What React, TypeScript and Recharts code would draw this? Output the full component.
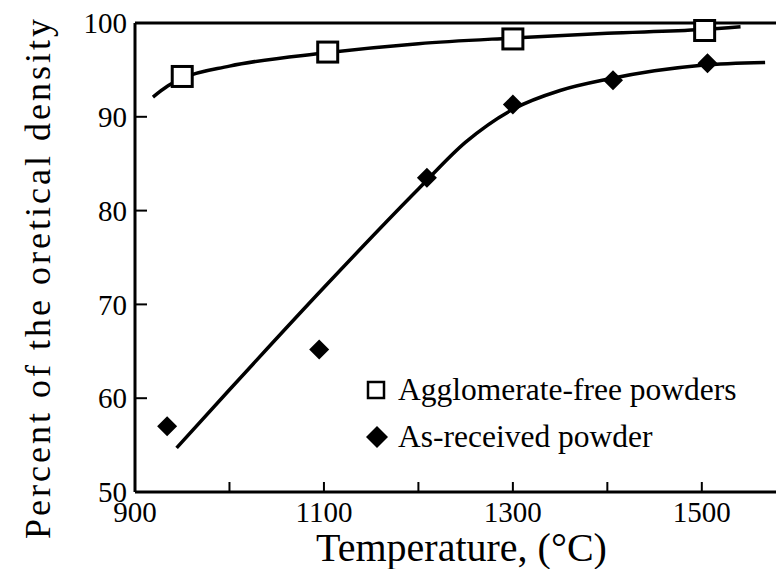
import React from 'react';
import { ComposedChart, Line, Scatter, XAxis, YAxis, ReferenceLine, Legend, Label } from 'recharts';

const FONT = '"Liberation Serif", "Times New Roman", serif';

// measured points
const agglomerateFreePoints = [
  { x: 950, y: 94.3 },
  { x: 1104, y: 96.9 },
  { x: 1300, y: 98.3 },
  { x: 1503, y: 99.2 },
];
const asReceivedPoints = [
  { x: 934, y: 57.0 },
  { x: 1095, y: 65.2 },
  { x: 1209, y: 83.5 },
  { x: 1300, y: 91.3 },
  { x: 1406, y: 93.9 },
  { x: 1506, y: 95.7 },
];

// fitted curves
const agglomerateFreeCurve = [
  { x: 919, y: 92.1 },
  { x: 935, y: 93.3 },
  { x: 950, y: 94.1 },
  { x: 1000, y: 95.4 },
  { x: 1100, y: 96.8 },
  { x: 1200, y: 97.8 },
  { x: 1300, y: 98.4 },
  { x: 1400, y: 98.9 },
  { x: 1500, y: 99.3 },
  { x: 1541, y: 99.6 },
];
const asReceivedCurve = [
  { x: 944, y: 54.7 },
  { x: 1000, y: 60.9 },
  { x: 1100, y: 71.8 },
  { x: 1200, y: 82.3 },
  { x: 1250, y: 87.3 },
  { x: 1300, y: 90.8 },
  { x: 1350, y: 92.8 },
  { x: 1400, y: 94.0 },
  { x: 1450, y: 94.9 },
  { x: 1500, y: 95.5 },
  { x: 1567, y: 95.8 },
];

const xTicks = [900, 1000, 1100, 1200, 1300, 1400, 1500];
const xTickLabels = [900, 1100, 1300, 1500];
const yTicks = [50, 60, 70, 80, 90, 100];

const seriesNames = ['Agglomerate-free powders', 'As-received powder'];

const SquareMark = (props: any) => {
  const { cx, cy } = props;
  return <rect x={cx - 10} y={cy - 10} width={20} height={20} fill="#fff" stroke="#000" strokeWidth={3} />;
};

const DiamondMark = (props: any) => {
  const { cx, cy } = props;
  const r = 10;
  return <polygon points={`${cx},${cy - r} ${cx + r},${cy} ${cx},${cy + r} ${cx - r},${cy}`} fill="#000" />;
};

const LegendBox = () => (
  <div style={{ fontFamily: FONT, fontSize: 31.5, color: '#000', lineHeight: '47px' }}>
    <div style={{ display: 'flex', alignItems: 'center' }}>
      <svg width={26} height={20} style={{ marginRight: 6 }}>
        <rect x={2} y={2} width={16} height={16} fill="#fff" stroke="#000" strokeWidth={2.5} />
      </svg>
      {seriesNames[0]}
    </div>
    <div style={{ display: 'flex', alignItems: 'center' }}>
      <svg width={26} height={24} style={{ marginRight: 6 }}>
        <polygon points="11,1 22,12 11,23 0,12" fill="#000" />
      </svg>
      {seriesNames[1]}
    </div>
  </div>
);

const YTitle = (props: any) => {
  const { viewBox } = props;
  const cx = viewBox.x + 38;
  const cy = viewBox.y + viewBox.height / 2 + 20;
  return (
    <text
      x={cx}
      y={cy}
      transform={`rotate(-90, ${cx}, ${cy})`}
      textAnchor="middle"
      dominantBaseline="central"
      fontFamily={FONT}
      fontSize={36}
      letterSpacing={3}
      fill="#000"
    >
      Percent of the oretical density
    </text>
  );
};

const XTitle = (props: any) => {
  const { viewBox } = props;
  const cx = viewBox.x + viewBox.width / 2 + 2;
  return (
    <text x={cx} y={561} textAnchor="middle" fontFamily={FONT} fontSize={40} fill="#000">
      Temperature, (°C)
    </text>
  );
};

export default function App() {
  return (
    <div style={{ margin: -8, width: 784, height: 577, background: '#fff' }}>
      <ComposedChart width={784} height={577} margin={{ top: 23, right: 0, bottom: 0, left: 0 }}>
        <XAxis
          type="number"
          dataKey="x"
          domain={[900, 1587]}
          allowDataOverflow
          ticks={xTicks}
          tickFormatter={(v: number) => (xTickLabels.includes(v) ? String(v) : '')}
          height={85}
          axisLine={{ stroke: '#000', strokeWidth: 3 }}
          tickLine={{ stroke: '#000', strokeWidth: 2 }}
          tickSize={-10}
          tickMargin={19}
          tick={{ fill: '#000', fontSize: 29, fontFamily: FONT }}
        >
          <Label content={XTitle} />
        </XAxis>
        <YAxis
          type="number"
          dataKey="y"
          domain={[50, 100]}
          ticks={yTicks}
          width={135}
          axisLine={{ stroke: '#000', strokeWidth: 3 }}
          tickLine={{ stroke: '#000', strokeWidth: 2 }}
          tickSize={-12}
          tickMargin={20}
          tick={{ fill: '#000', fontSize: 29, fontFamily: FONT }}
        >
          <Label content={YTitle} />
        </YAxis>
        <ReferenceLine y={100} stroke="#000" strokeWidth={3} />
        <Line
          data={agglomerateFreeCurve}
          dataKey="y"
          type="monotone"
          stroke="#000"
          strokeWidth={3.5}
          dot={false}
          legendType="none"
          isAnimationActive={false}
        />
        <Line
          data={asReceivedCurve}
          dataKey="y"
          type="monotone"
          stroke="#000"
          strokeWidth={3.5}
          dot={false}
          legendType="none"
          isAnimationActive={false}
        />
        <Scatter name={seriesNames[0]} data={agglomerateFreePoints} dataKey="y" shape={SquareMark} isAnimationActive={false} />
        <Scatter name={seriesNames[1]} data={asReceivedPoints} dataKey="y" shape={DiamondMark} isAnimationActive={false} />
        <Legend
          layout="vertical"
          align="center"
          verticalAlign="middle"
          wrapperStyle={{ left: 366, top: 366, width: 420 }}
          content={LegendBox}
        />
      </ComposedChart>
    </div>
  );
}
